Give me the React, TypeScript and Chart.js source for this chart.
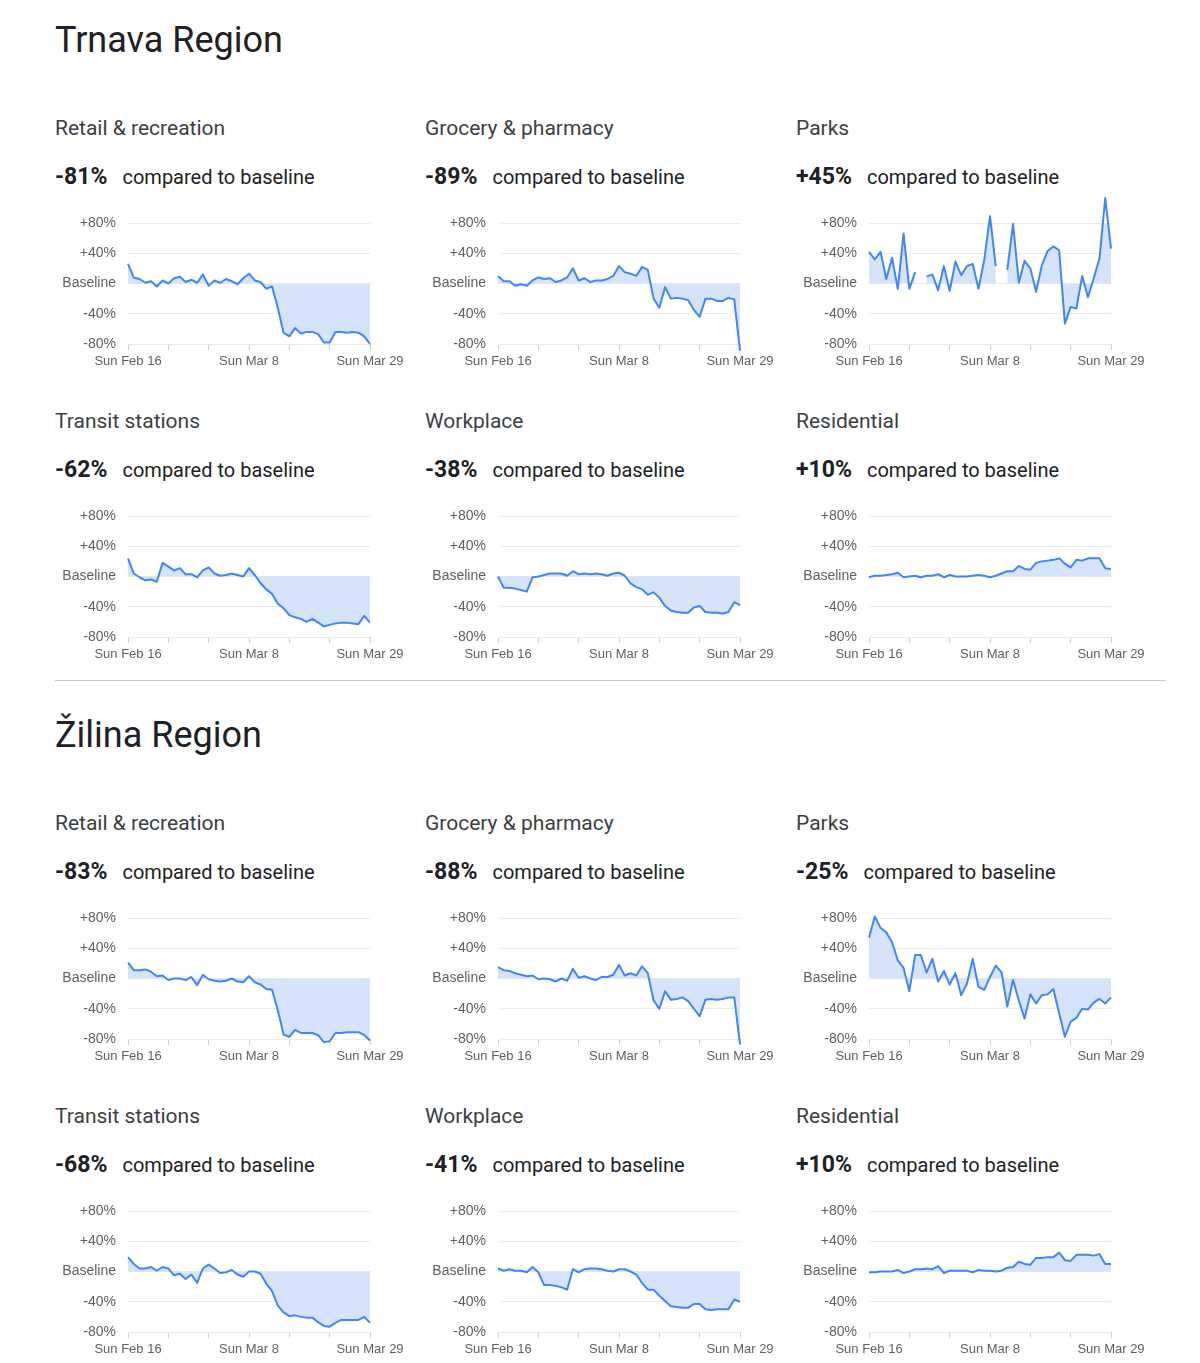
import React, { useEffect, useRef } from 'react';
import { Chart, registerables } from 'chart.js';

Chart.register(...registerables);

// ---- Data ----
const X_TICK_VALUES = [0, 7, 14, 21, 28, 35, 42];
const X_TICK_LABELS = ['Sun Feb 16', '', '', 'Sun Mar 8', '', '', 'Sun Mar 29'];
const Y_TICK_VALUES = [-80, -40, 0, 40, 80];
const Y_TICK_LABELS = ['-80%', '-40%', 'Baseline', '+40%', '+80%'];

const REGIONS = ['Trnava Region', 'Žilina Region'];
const CATEGORIES = ['Retail & recreation', 'Grocery & pharmacy', 'Parks', 'Transit stations', 'Workplace', 'Residential'];
const TRNAVA_CHANGE = ['-81%', '-89%', '+45%', '-62%', '-38%', '+10%'];
const ZILINA_CHANGE = ['-83%', '-88%', '-25%', '-68%', '-41%', '+10%'];

const trnavaRetail = [26, 8, 6, 1, 3, -4, 4, 0, 7, 9, 2, 5, 1, 12, -3, 4, 1, 6, 3, -1, 7, 13, 4, 2, -7, -4, -32, -65, -70, -59, -66, -64, -64, -67, -78, -78, -64, -64, -65, -64, -65, -70, -80];
const trnavaGrocery = [10, 3, 3, -3, -1, -3, 4, 8, 6, 7, 2, 4, 8, 20, 4, 7, 2, 4, 4, 6, 10, 23, 15, 13, 10, 22, 18, -20, -32, -5, -20, -19, -20, -22, -35, -44, -20, -20, -23, -23, -19, -21, -89];
const trnavaParks = [42, 32, 42, 6, 34, -7, 66, -7, 15, null, 9, 12, -9, 23, -10, 29, 11, 23, 26, -7, 31, 89, 23, null, 18, 79, 1, 30, 20, -11, 24, 43, 49, 44, -53, -31, -33, 10, -18, 7, 33, 113, 46];
const trnavaTransit = [24, 4, -1, -5, -4, -7, 18, 13, 8, 11, 3, 3, -1, 8, 12, 4, 1, 2, 4, 2, 0, 11, 2, -9, -17, -23, -36, -42, -51, -54, -56, -60, -56, -61, -66, -64, -62, -61, -61, -62, -63, -52, -61];
const trnavaWorkplace = [0, -15, -15, -16, -18, -20, -1, 0, 2, 4, 4, 4, 1, 7, 3, 4, 3, 4, 3, 1, 4, 5, 1, -9, -14, -17, -24, -21, -28, -39, -45, -47, -48, -48, -41, -39, -47, -48, -48, -49, -47, -34, -38];
const trnavaResidential = [-1, 1, 1, 2, 3, 5, -1, 0, 1, -1, 1, 1, 3, -1, 2, 0, 0, 0, 1, 2, 1, -1, 1, 4, 7, 7, 14, 10, 9, 18, 20, 21, 22, 24, 17, 12, 22, 21, 24, 24, 24, 11, 10];

const zilinaRetail = [21, 11, 11, 12, 9, 3, 4, -2, 0, 0, -2, 2, -9, 5, -1, -3, -4, -3, 0, -4, -5, 3, -5, -8, -14, -15, -42, -74, -77, -68, -72, -72, -72, -75, -84, -83, -72, -72, -71, -71, -71, -75, -82];
const zilinaGrocery = [15, 11, 10, 7, 5, 3, 4, -1, 0, -1, -4, 0, -3, 13, 1, 3, 0, -2, 2, 2, 5, 18, 4, 7, 4, 16, 7, -29, -40, -17, -28, -27, -25, -30, -40, -50, -28, -27, -28, -27, -25, -25, -87];
const zilinaParks = [54, 82, 67, 61, 48, 24, 14, -17, 31, 31, 8, 26, -4, 10, -8, 7, -22, -7, 26, -11, -15, 2, 17, 8, -37, -2, -29, -53, -21, -33, -22, -21, -14, -46, -77, -57, -52, -40, -41, -32, -27, -33, -25];
const zilinaTransit = [19, 10, 4, 4, 6, 1, 6, 4, -5, -3, -10, -4, -15, 4, 9, 4, -2, -1, 2, -4, -7, 0, 0, -3, -16, -26, -45, -54, -59, -58, -60, -61, -61, -67, -72, -73, -68, -64, -64, -64, -64, -60, -68];
const zilinaWorkplace = [4, 1, 3, 1, 1, -1, 6, -1, -18, -18, -19, -21, -24, 3, -1, 3, 4, 4, 3, 1, 0, 3, 3, 0, -4, -15, -24, -24, -32, -39, -46, -47, -48, -48, -43, -43, -50, -51, -50, -50, -50, -37, -40];
const zilinaResidential = [-1, -1, 0, 0, 0, 2, -2, 0, 3, 3, 4, 3, 7, -2, 1, 1, 1, 1, -1, 2, 1, 1, 0, 1, 5, 6, 13, 10, 9, 18, 18, 19, 19, 25, 15, 14, 22, 22, 22, 21, 23, 10, 10];

const TRNAVA_SERIES = [trnavaRetail, trnavaGrocery, trnavaParks, trnavaTransit, trnavaWorkplace, trnavaResidential];
const ZILINA_SERIES = [zilinaRetail, zilinaGrocery, zilinaParks, zilinaTransit, zilinaWorkplace, zilinaResidential];

// ---- Layout ----
const COL_TEXT_X = [55, 425, 796];
const COL_CANVAS_X = [50, 420, 791];
const CANVAS_W = 360;
const CANVAS_H = 178;
const PAD_TOP = 30;

const TEXT_FONT = 'Roboto, "Open Sans", Arial, sans-serif';

type ChartProps = { values: (number | null)[]; left: number; top: number };

function MiniChart({ values, left, top }: ChartProps) {
  const ref = useRef<HTMLCanvasElement>(null);
  useEffect(() => {
    if (!ref.current) return;
    const chart = new Chart(ref.current, {
      type: 'line',
      data: {
        datasets: [
          {
            data: values.map((v, i) => ({ x: i, y: v })) as any,
            borderColor: '#4285f4',
            borderWidth: 2,
            backgroundColor: '#d6e4fb',
            fill: 'origin',
            pointRadius: 0,
            pointHoverRadius: 0,
            tension: 0,
            clip: false as any,
            spanGaps: false,
            borderJoinStyle: 'round',
          },
        ],
      },
      options: {
        animation: false,
        responsive: false,
        maintainAspectRatio: false,
        events: [],
        layout: { padding: { top: PAD_TOP, right: 40, bottom: 0, left: 0 } },
        plugins: { legend: { display: false }, tooltip: { enabled: false } },
        scales: {
          x: {
            type: 'linear',
            min: 0,
            max: 42,
            afterBuildTicks: (s: any) => {
              s.ticks = X_TICK_VALUES.map((v) => ({ value: v }));
            },
            afterFit: (s: any) => {
              s.height = 27;
            },
            ticks: {
              autoSkip: false,
              maxRotation: 0,
              padding: 4,
              color: '#5f5f5f',
              font: { family: 'Arial, "Liberation Sans", sans-serif', size: 13 },
              callback: (v: any) => {
                const idx = X_TICK_VALUES.indexOf(Number(v));
                return idx >= 0 ? X_TICK_LABELS[idx] : '';
              },
            },
            grid: { drawOnChartArea: false, drawTicks: true, tickLength: 6, color: '#d0d0d0' },
            border: { display: false },
          },
          y: {
            min: -80,
            max: 80,
            afterBuildTicks: (s: any) => {
              s.ticks = Y_TICK_VALUES.map((v) => ({ value: v }));
            },
            afterFit: (s: any) => {
              s.width = 78;
            },
            ticks: {
              padding: 12,
              color: '#5f5f5f',
              font: { family: 'Arial, "Liberation Sans", sans-serif', size: 14 },
              callback: (v: any) => {
                const idx = Y_TICK_VALUES.indexOf(Number(v));
                return idx >= 0 ? Y_TICK_LABELS[idx] : '';
              },
            },
            grid: { color: '#ebebeb', drawTicks: false, lineWidth: 1 },
            border: { display: false },
          },
        },
      },
    });
    return () => chart.destroy();
  }, [values]);
  return (
    <canvas
      ref={ref}
      width={CANVAS_W}
      height={CANVAS_H}
      style={{ position: 'absolute', left, top, width: CANVAS_W, height: CANVAS_H, display: 'block' }}
    />
  );
}

type PanelProps = {
  category: string;
  change: string;
  values: (number | null)[];
  col: number;
  subtitleY: number;
  gridTopY: number;
};

function Panel({ category, change, values, col, subtitleY, gridTopY }: PanelProps) {
  const x = COL_TEXT_X[col];
  return (
    <>
      <div
        style={{
          position: 'absolute',
          left: x,
          top: subtitleY - 12,
          fontSize: 21,
          lineHeight: '24px',
          color: '#3c4043',
          fontFamily: TEXT_FONT,
          whiteSpace: 'nowrap',
        }}
      >
        {category}
      </div>
      <div
        style={{
          position: 'absolute',
          left: x,
          top: subtitleY + 49 - 13,
          fontSize: 20,
          lineHeight: '26px',
          color: '#202124',
          fontFamily: TEXT_FONT,
          whiteSpace: 'nowrap',
        }}
      >
        <span style={{ fontWeight: 700, fontSize: 23, marginRight: 15 }}>{change}</span>
        <span>compared to baseline</span>
      </div>
      <MiniChart values={values} left={COL_CANVAS_X[col]} top={gridTopY - PAD_TOP} />
    </>
  );
}

function Region({ name, titleY, changes, series }: { name: string; titleY: number; changes: string[]; series: (number | null)[][] }) {
  const rowSubtitleY = [titleY + 88, titleY + 381];
  const rowGridY = [titleY + 183, titleY + 476];
  return (
    <>
      <div
        style={{
          position: 'absolute',
          left: 55,
          top: titleY - 21,
          fontSize: 36,
          lineHeight: '42px',
          color: '#202124',
          fontFamily: TEXT_FONT,
          whiteSpace: 'nowrap',
        }}
      >
        {name}
      </div>
      {CATEGORIES.map((cat, i) => {
        const row = Math.floor(i / 3);
        const col = i % 3;
        return (
          <Panel
            key={cat}
            category={cat}
            change={changes[i]}
            values={series[i]}
            col={col}
            subtitleY={rowSubtitleY[row]}
            gridTopY={rowGridY[row]}
          />
        );
      })}
    </>
  );
}

export default function App() {
  return (
    <div
      style={{
        position: 'absolute',
        left: 0,
        top: 0,
        width: 1200,
        height: 1363,
        background: '#ffffff',
        overflow: 'hidden',
      }}
    >
      <Region name={REGIONS[0]} titleY={40} changes={TRNAVA_CHANGE} series={TRNAVA_SERIES} />
      <div style={{ position: 'absolute', left: 55, top: 680, width: 1111, height: 1, background: '#c8c8c8' }} />
      <Region name={REGIONS[1]} titleY={735} changes={ZILINA_CHANGE} series={ZILINA_SERIES} />
    </div>
  );
}
